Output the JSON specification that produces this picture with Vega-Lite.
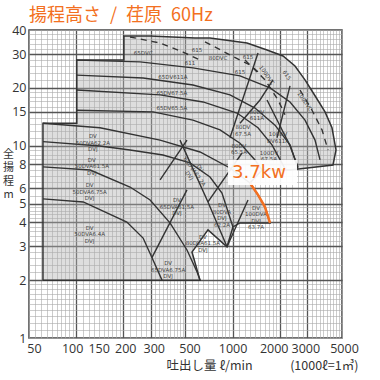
{
  "$schema": "https://vega.github.io/schema/vega-lite/v6.json",
  "width": 313,
  "height": 308,
  "autosize": {"type": "none"},
  "padding": {"left": 29, "top": 30, "right": 38, "bottom": 42},
  "background": "white",
  "title": {"text": "揚程高さ\u2002/\u2002荏原\u200260Hz", "anchor": "start", "frame": "group", "font": "Noto Sans CJK JP", "fontSize": 18, "fontWeight": "normal", "color": "#f37021", "offset": 6, "dy": 7},
  "config": {"view": {"stroke": "#444", "strokeWidth": 1.5}},
  "datasets": {
    "region": [
      {"i": 1, "q": 61.4, "h": 2.0}, {"i": 2, "q": 61.4, "h": 13.1}, {"i": 3, "q": 101, "h": 13.1}, {"i": 4, "q": 101, "h": 27.9},
      {"i": 5, "q": 202, "h": 27.9}, {"i": 6, "q": 202, "h": 37.2}, {"i": 7, "q": 297, "h": 37.2}, {"i": 8, "q": 575, "h": 36.3},
      {"i": 9, "q": 717, "h": 36.3}, {"i": 10, "q": 1236, "h": 34.2}, {"i": 11, "q": 1659, "h": 31.5}, {"i": 12, "q": 2099, "h": 29.3},
      {"i": 13, "q": 2504, "h": 26.0}, {"i": 14, "q": 2901, "h": 22.0}, {"i": 15, "q": 3362, "h": 18.2}, {"i": 16, "q": 3895, "h": 15.0},
      {"i": 17, "q": 4315, "h": 12.4}, {"i": 18, "q": 4578, "h": 9.51}, {"i": 19, "q": 4380, "h": 7.94}, {"i": 20, "q": 2327, "h": 7.48},
      {"i": 21, "q": 1541, "h": 7.48}, {"i": 22, "q": 1291, "h": 6.4}, {"i": 23, "q": 1453, "h": 5.55}, {"i": 24, "q": 1611, "h": 4.8},
      {"i": 25, "q": 1734, "h": 3.97}, {"i": 26, "q": 1115, "h": 3.97}, {"i": 27, "q": 1005, "h": 3.78}, {"i": 28, "q": 921, "h": 2.98},
      {"i": 29, "q": 696, "h": 3.65}, {"i": 30, "q": 550, "h": 2.80}, {"i": 31, "q": 619, "h": 2.0}, {"i": 32, "q": 61.4, "h": 2.0}
    ],
    "curves": [
      {"c": "B1", "i": 1, "q": 101, "h": 27.9}, {"c": "B1", "i": 2, "q": 256, "h": 27.3}, {"c": "B1", "i": 3, "q": 558, "h": 25.4}, {"c": "B1", "i": 4, "q": 1115, "h": 23.1}, {"c": "B1", "i": 5, "q": 1734, "h": 20.0}, {"c": "B1", "i": 6, "q": 2327, "h": 16.9}, {"c": "B1", "i": 7, "q": 2901, "h": 13.6}, {"c": "B1", "i": 8, "q": 3362, "h": 10.7}, {"c": "B1", "i": 9, "q": 3618, "h": 8.44},
      {"c": "B2", "i": 1, "q": 101, "h": 23.3}, {"c": "B2", "i": 2, "q": 268, "h": 22.5}, {"c": "B2", "i": 3, "q": 558, "h": 20.7}, {"c": "B2", "i": 4, "q": 962, "h": 18.4}, {"c": "B2", "i": 5, "q": 1390, "h": 15.7}, {"c": "B2", "i": 6, "q": 1866, "h": 12.8}, {"c": "B2", "i": 7, "q": 2327, "h": 10.1}, {"c": "B2", "i": 8, "q": 2617, "h": 7.6},
      {"c": "B3", "i": 1, "q": 101, "h": 19.5}, {"c": "B3", "i": 2, "q": 344, "h": 18.4}, {"c": "B3", "i": 3, "q": 647, "h": 16.9}, {"c": "B3", "i": 4, "q": 1067, "h": 14.8}, {"c": "B3", "i": 5, "q": 1453, "h": 12.4}, {"c": "B3", "i": 6, "q": 1785, "h": 10.1}, {"c": "B3", "i": 7, "q": 2161, "h": 7.6},
      {"c": "B4", "i": 1, "q": 101, "h": 15.3}, {"c": "B4", "i": 2, "q": 310, "h": 15.0}, {"c": "B4", "i": 3, "q": 558, "h": 13.6}, {"c": "B4", "i": 4, "q": 831, "h": 12.1}, {"c": "B4", "i": 5, "q": 1115, "h": 10.3}, {"c": "B4", "i": 6, "q": 1390, "h": 8.44}, {"c": "B4", "i": 7, "q": 1541, "h": 7.48},
      {"c": "A4", "i": 1, "q": 61.4, "h": 13.1}, {"c": "A4", "i": 2, "q": 142, "h": 12.4}, {"c": "A4", "i": 3, "q": 344, "h": 10.7}, {"c": "A4", "i": 4, "q": 619, "h": 9.28}, {"c": "A4", "i": 5, "q": 962, "h": 7.66}, {"c": "A4", "i": 6, "q": 1291, "h": 6.4},
      {"c": "A3", "i": 1, "q": 61.4, "h": 10.5}, {"c": "A3", "i": 2, "q": 142, "h": 9.97}, {"c": "A3", "i": 3, "q": 221, "h": 9.51}, {"c": "A3", "i": 4, "q": 359, "h": 8.95}, {"c": "A3", "i": 5, "q": 534, "h": 8.14}, {"c": "A3", "i": 6, "q": 717, "h": 6.88}, {"c": "A3", "i": 7, "q": 855, "h": 5.68}, {"c": "A3", "i": 8, "q": 1005, "h": 3.78},
      {"c": "A2", "i": 1, "q": 61.4, "h": 7.76}, {"c": "A2", "i": 2, "q": 123, "h": 7.48}, {"c": "A2", "i": 3, "q": 221, "h": 6.10}, {"c": "A2", "i": 4, "q": 297, "h": 5.22}, {"c": "A2", "i": 5, "q": 398, "h": 3.97}, {"c": "A2", "i": 6, "q": 511, "h": 2.87}, {"c": "A2", "i": 7, "q": 592, "h": 2.21}, {"c": "A2", "i": 8, "q": 619, "h": 2.0},
      {"c": "A1", "i": 1, "q": 61.4, "h": 5.29}, {"c": "A1", "i": 2, "q": 111, "h": 5.10}, {"c": "A1", "i": 3, "q": 211, "h": 4.01}, {"c": "A1", "i": 4, "q": 268, "h": 3.31}, {"c": "A1", "i": 5, "q": 305, "h": 2.62}, {"c": "A1", "i": 6, "q": 354, "h": 2.0},
      {"c": "L1", "i": 1, "q": 305, "h": 2.62}, {"c": "L1", "i": 2, "q": 511, "h": 5.89},
      {"c": "L2", "i": 1, "q": 344, "h": 6.64}, {"c": "L2", "i": 2, "q": 511, "h": 10.7},
      {"c": "M1", "i": 1, "q": 461, "h": 10.7}, {"c": "M1", "i": 2, "q": 696, "h": 5.10}, {"c": "M1", "i": 3, "q": 921, "h": 2.98},
      {"c": "L3", "i": 1, "q": 696, "h": 5.10}, {"c": "L3", "i": 2, "q": 1148, "h": 9.17},
      {"c": "L4", "i": 1, "q": 921, "h": 2.98}, {"c": "L4", "i": 2, "q": 1254, "h": 5.22},
      {"c": "S1", "i": 1, "q": 1453, "h": 30.4}, {"c": "S1", "i": 2, "q": 962, "h": 11.0},
      {"c": "S2", "i": 1, "q": 2327, "h": 20.5}, {"c": "S2", "i": 2, "q": 1922, "h": 11.0},
      {"c": "S3", "i": 1, "q": 1115, "h": 13.1}, {"c": "S3", "i": 2, "q": 1496, "h": 17.3}, {"c": "S3", "i": 3, "q": 1812, "h": 22.0},
      {"c": "S4", "i": 1, "q": 1659, "h": 17.3}, {"c": "S4", "i": 2, "q": 2327, "h": 10.0}, {"c": "S4", "i": 3, "q": 2617, "h": 7.76}
    ],
    "dashed": [
      {"c": "D1", "i": 1, "q": 221, "h": 36.8}, {"c": "D1", "i": 2, "q": 344, "h": 34.2}, {"c": "D1", "i": 3, "q": 482, "h": 30.7}, {"c": "D1", "i": 4, "q": 619, "h": 27.9},
      {"c": "D2", "i": 1, "q": 666, "h": 34.7}, {"c": "D2", "i": 2, "q": 962, "h": 29.7}, {"c": "D2", "i": 3, "q": 1291, "h": 26.3}, {"c": "D2", "i": 4, "q": 1541, "h": 23.3},
      {"c": "D3", "i": 1, "q": 1200, "h": 27.9}, {"c": "D3", "i": 2, "q": 1611, "h": 22.0}, {"c": "D3", "i": 3, "q": 1950, "h": 17.3}, {"c": "D3", "i": 4, "q": 2161, "h": 14.5},
      {"c": "D4", "i": 1, "q": 2695, "h": 19.5}, {"c": "D4", "i": 2, "q": 3216, "h": 15.3}, {"c": "D4", "i": 3, "q": 3726, "h": 12.1}, {"c": "D4", "i": 4, "q": 4070, "h": 9.51}
    ],
    "kw37": [
      {"i": 1, "q": 1291, "h": 6.4}, {"i": 2, "q": 1453, "h": 5.55}, {"i": 3, "q": 1611, "h": 4.8}, {"i": 4, "q": 1734, "h": 3.97}
    ],
    "kwbox": [{"q": 934, "q2": 2579, "h": 6.24, "h2": 8.44, "t": "3.7kw", "qt": 1474, "ht": 7.23}],
    "labels": [
      {"q": 268, "h": 30.4, "t": "65DVC"},
      {"q": 415, "h": 22.8, "t": "65DV611A"},
      {"q": 409, "h": 18.8, "t": "65DV67.5A"},
      {"q": 409, "h": 15.7, "t": "65DV65.5A"},
      {"q": 592, "h": 31.5, "t": "615"},
      {"q": 534, "h": 26.9, "t": "611"},
      {"q": 807, "h": 28.6, "t": "80DVC"},
      {"q": 1254, "h": 29.0, "t": "615"},
      {"q": 1115, "h": 24.2, "t": "615"},
      {"q": 1430, "h": 15.0, "t": "80DV\n611A"},
      {"q": 1164, "h": 12.5, "t": "80DV\n67.5A"},
      {"q": 1097, "h": 10.0, "t": "80DV\n65.5A"},
      {"q": 1950, "h": 11.5, "t": "100DV\nDV611A"},
      {"q": 1708, "h": 9.2, "t": "100DV\n67.5A"},
      {"q": 128, "h": 11.2, "t": "DV\n50DVA62.2A\nDVJ"},
      {"q": 126, "h": 8.44, "t": "DV\n50DVA61.5A\nDVJ"},
      {"q": 122, "h": 6.24, "t": "DV\n50DVA6.75A\nDVJ"},
      {"q": 122, "h": 3.74, "t": "DV\n50DVA6.4A\nDVJ"},
      {"q": 441, "h": 5.22, "t": "DV\n65DVA61.5A\nDVJ"},
      {"q": 387, "h": 2.45, "t": "DV\n65DVA6.75A\nDVJ"},
      {"q": 646, "h": 3.36, "t": "DV\n80DVA61.5A\nDVJ"},
      {"q": 855, "h": 4.91, "t": "DV\n80DVA\nDVJ\n62.2A"},
      {"q": 1411, "h": 4.75, "t": "DV\n100DVA\nDVJ\n63.7A"}
    ],
    "rlabels": [
      {"q": 1656, "h": 23.3, "t": "100DVC"},
      {"q": 2226, "h": 23.3, "t": "615"},
      {"q": 2901, "h": 17.0, "t": "100DVC"},
      {"q": 620, "h": 7.66, "t": "DV\n65DVA62.2A\nDVJ"}
    ]
  },
  "encoding": {
    "x": {
      "field": "q", "type": "quantitative",
      "scale": {"type": "log", "domain": [50, 5000], "nice": false},
      "axis": {
        "values": [50,55,60,65,70,75,80,85,90,95,100,110,120,130,140,150,160,170,180,190,200,220,240,260,280,300,320,340,360,380,400,420,440,460,480,500,550,600,650,700,750,800,850,900,950,1000,1100,1200,1300,1400,1500,1600,1700,1800,1900,2000,2200,2400,2600,2800,3000,3200,3400,3600,3800,4000,4200,4400,4600,4800,5000],
        "labelExpr": "indexof([50,100,150,200,300,500,1000,2000,3000,5000], datum.value) >= 0 ? format(datum.value, 'd') : ''",
        "labelOffset": {"condition": [
          {"test": "datum.value == 50", "value": 5},
          {"test": "datum.value == 100", "value": -4},
          {"test": "datum.value == 150", "value": -5},
          {"test": "datum.value == 200", "value": 2},
          {"test": "datum.value == 300", "value": 3},
          {"test": "datum.value == 500", "value": 4},
          {"test": "datum.value == 2000", "value": -6},
          {"test": "datum.value == 3000", "value": -2},
          {"test": "datum.value == 5000", "value": 2}
        ], "value": 0},
        "labelOverlap": false, "labelFlush": false, "ticks": false, "domain": false, "grid": true,
        "gridColor": {"condition": {"test": "indexof([100,200,300,500,1000,2000,3000], datum.value) >= 0", "value": "#555"}, "value": "#aaa"},
        "gridWidth": {"condition": {"test": "indexof([100,200,300,500,1000,2000,3000], datum.value) >= 0", "value": 1.3}, "value": 0.6},
        "labelFont": "Open Sans", "labelFontSize": 12.5, "labelColor": "#333", "labelPadding": 4,
        "title": "吐出し量 ℓ/min　　　(1000ℓ=1㎥)",
        "titleFont": "Noto Sans CJK JP", "titleFontSize": 12.5, "titleFontWeight": "normal", "titleColor": "#333",
        "titleX": 233, "titleY": 21, "titleAlign": "center", "titleBaseline": "top"
      }
    },
    "y": {
      "field": "h", "type": "quantitative",
      "scale": {"type": "log", "domain": [1, 40], "nice": false},
      "axis": {
        "values": [1,1.1,1.2,1.3,1.4,1.5,1.6,1.7,1.8,1.9,2,2.2,2.4,2.6,2.8,3,3.2,3.4,3.6,3.8,4,4.2,4.4,4.6,4.8,5,5.5,6,6.5,7,7.5,8,8.5,9,9.5,10,11,12,13,14,15,16,17,18,19,20,22,24,26,28,30,32,34,36,38,40],
        "labelExpr": "indexof([1,2,3,4,5,6,8,10,15,20,30,40], datum.value) >= 0 ? format(datum.value, 'd') : ''",
        "labelOverlap": false, "labelFlush": false, "ticks": false, "domain": false, "grid": true,
        "gridColor": {"condition": {"test": "indexof([2,3,4,5,6,8,10,15,20,30], datum.value) >= 0", "value": "#555"}, "value": "#aaa"},
        "gridWidth": {"condition": {"test": "indexof([2,3,4,5,6,8,10,15,20,30], datum.value) >= 0", "value": 1.3}, "value": 0.6},
        "labelFont": "Open Sans", "labelFontSize": 12.5, "labelColor": "#333", "labelPadding": 3,
        "title": ["全", "揚", "程", "m"],
        "titleFont": "Noto Sans CJK JP", "titleFontSize": 11, "titleFontWeight": "normal", "titleColor": "#333",
        "titleAngle": 0, "titleLineHeight": 13.5, "titleAlign": "center", "titleBaseline": "top",
        "titleX": -21, "titleY": 118
      }
    }
  },
  "layer": [
    {"data": {"name": "region"}, "mark": {"type": "line", "filled": true, "color": "#b0b0b0", "opacity": 0.42}, "encoding": {"order": {"field": "i", "type": "quantitative"}}},
    {"data": {"name": "curves"}, "mark": {"type": "line", "color": "#333", "strokeWidth": 1.4}, "encoding": {"detail": {"field": "c"}, "order": {"field": "i", "type": "quantitative"}}},
    {"data": {"name": "dashed"}, "mark": {"type": "line", "color": "#333", "strokeWidth": 1.4, "strokeDash": [6, 5]}, "encoding": {"detail": {"field": "c"}, "order": {"field": "i", "type": "quantitative"}}},
    {"data": {"name": "region"}, "mark": {"type": "line", "color": "#333", "strokeWidth": 1.5}, "encoding": {"order": {"field": "i", "type": "quantitative"}}},
    {"data": {"name": "labels"}, "mark": {"type": "text", "font": "DejaVu Sans", "fontSize": 5.5, "color": "#444", "lineBreak": "\n", "lineHeight": 6.5}, "encoding": {"text": {"field": "t"}}},
    {"data": {"name": "rlabels"}, "mark": {"type": "text", "font": "DejaVu Sans", "fontSize": 5.5, "color": "#444", "lineBreak": "\n", "lineHeight": 6.5, "angle": 55}, "encoding": {"text": {"field": "t"}}},
    {"data": {"name": "kw37"}, "mark": {"type": "line", "color": "#f37021", "strokeWidth": 2.5}, "encoding": {"order": {"field": "i", "type": "quantitative"}}},
    {"data": {"name": "kwbox"}, "mark": {"type": "rect", "color": "white", "opacity": 0.92}, "encoding": {"x2": {"field": "q2"}, "y2": {"field": "h2"}}},
    {"data": {"name": "kwbox"}, "mark": {"type": "text", "font": "DejaVu Sans", "fontSize": 18, "color": "#f37021"}, "encoding": {"x": {"field": "qt", "type": "quantitative"}, "y": {"field": "ht", "type": "quantitative"}, "text": {"field": "t"}}}
  ]
}
